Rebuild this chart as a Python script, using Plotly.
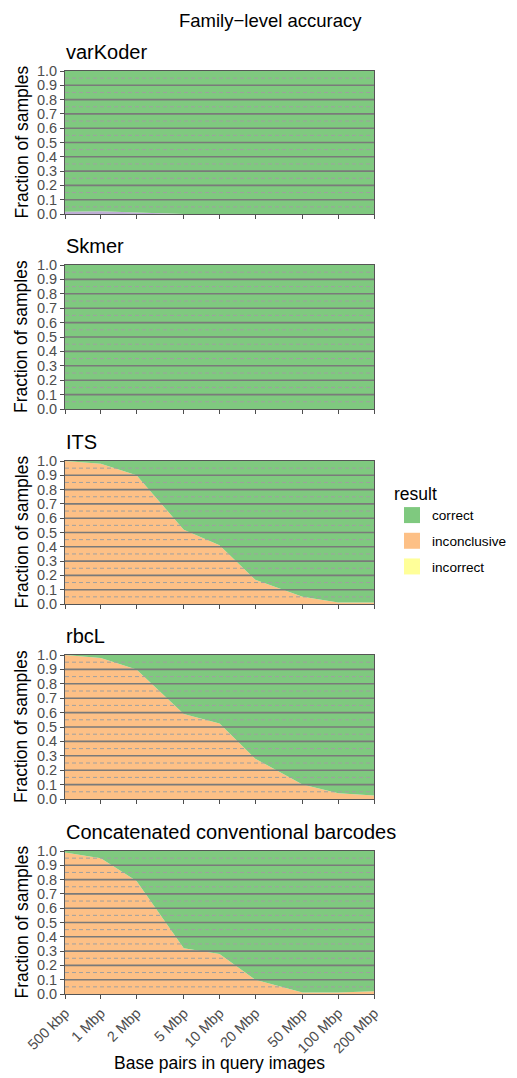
import math
import plotly.graph_objects as go

# page has an 8px body margin; figure coordinates = reference pixels - OFF
OFF = 8
W, H = 517 - OFF, 1078 - OFF

x_bp = [5e5, 1e6, 2e6, 5e6, 1e7, 2e7, 5e7, 1e8, 2e8]
x_labels = ["500 kbp", "1 Mbp", "2 Mbp", "5 Mbp", "10 Mbp", "20 Mbp", "50 Mbp", "100 Mbp", "200 Mbp"]

panels = ["varKoder", "Skmer", "ITS", "rbcL", "Concatenated conventional barcodes"]

# fractions per panel (bottom to top): incorrect, other, inconclusive, correct
incorrect = {
    "varKoder": [0, 0, 0, 0, 0, 0, 0, 0, 0],
    "Skmer": [0, 0, 0, 0, 0, 0, 0, 0, 0],
    "ITS": [0, 0, 0, 0, 0, 0, 0, 0, 0],
    "rbcL": [0, 0, 0, 0, 0, 0, 0, 0, 0],
    "Concatenated conventional barcodes": [0, 0, 0, 0, 0, 0, 0, 0, 0],
}
other = {
    "varKoder": [0.015, 0.02, 0.01, 0.0, 0, 0, 0, 0, 0],
    "Skmer": [0, 0, 0, 0, 0, 0, 0, 0, 0],
    "ITS": [0, 0, 0, 0, 0, 0, 0, 0, 0],
    "rbcL": [0, 0, 0, 0, 0, 0, 0, 0, 0],
    "Concatenated conventional barcodes": [0, 0, 0, 0, 0, 0, 0, 0, 0],
}
inconclusive = {
    "varKoder": [0, 0, 0, 0, 0, 0, 0, 0, 0],
    "Skmer": [0, 0, 0, 0, 0, 0, 0, 0, 0],
    "ITS": [1.0, 0.98, 0.90, 0.52, 0.41, 0.17, 0.05, 0.01, 0.01],
    "rbcL": [1.0, 0.98, 0.90, 0.59, 0.525, 0.28, 0.10, 0.04, 0.025],
    "Concatenated conventional barcodes": [0.99, 0.95, 0.79, 0.32, 0.28, 0.10, 0.01, 0.01, 0.02],
}
correct = {p: [round(1 - a - b - c, 4) for a, b, c in zip(incorrect[p], other[p], inconclusive[p])] for p in panels}

major_ticks = [round(0.1 * i, 1) for i in range(11)]
minor_ticks = [round(0.05 + 0.1 * i, 2) for i in range(10)]

legend_order = ["correct", "inconclusive", "incorrect"]
colors = {"correct": "#7FC97F", "inconclusive": "#FDC086", "incorrect": "#FFFF99", "other": "#BEAED4"}

# panel pixel boxes in reference coords (top, bottom)
boxes = [(71, 214), (265, 409), (461, 604), (655, 799), (851, 994)]
x0px, x1px = 65, 374


def px(x):
    return (x - OFF) / W


def py(y):
    return 1 - (y - OFF) / H


fig = go.Figure()
layout = {}
shapes = []
annotations = []
font_family = "Liberation Sans, Arial, sans-serif"

for i, p in enumerate(panels):
    n = i + 1
    xa = "x" if n == 1 else f"x{n}"
    ya = "y" if n == 1 else f"y{n}"
    series = [
        ("incorrect", incorrect[p]),
        ("other", other[p]),
        ("inconclusive", inconclusive[p]),
        ("correct", correct[p]),
    ]
    for name, vals in series:
        fig.add_trace(go.Scatter(
            x=x_bp, y=vals, xaxis=xa, yaxis=ya,
            name=name, stackgroup=f"s{n}", mode="lines",
            line=dict(width=0, color=colors[name]), fillcolor=colors[name],
            showlegend=False, hoverinfo="skip",
        ))
    top, bot = boxes[i]
    layout[f"xaxis{'' if n == 1 else n}"] = dict(
        type="log", range=[math.log10(x_bp[0]), math.log10(x_bp[-1])],
        domain=[px(x0px), px(x1px)], anchor=ya,
        tickvals=x_bp, ticktext=x_labels, showticklabels=(n == 5),
        tickangle=-45, ticks="outside", ticklen=4, tickcolor="#4D4D4D",
        tickfont=dict(size=14.5, color="#4D4D4D", family=font_family),
        showgrid=False, showline=True, mirror=True, linecolor="#555555", linewidth=1,
        zeroline=False, fixedrange=True,
    )
    layout[f"yaxis{'' if n == 1 else n}"] = dict(
        range=[0, 1], domain=[py(bot), py(top)], anchor=xa,
        tickvals=major_ticks, ticktext=[f"{v:.1f}" for v in major_ticks],
        ticks="outside", ticklen=4, tickcolor="#4D4D4D",
        tickfont=dict(size=14.5, color="#4D4D4D", family=font_family),
        showgrid=False, showline=True, mirror=True, linecolor="#555555", linewidth=1,
        zeroline=False, fixedrange=True,
    )
    for v in minor_ticks:
        shapes.append(dict(type="line", xref=f"{xa} domain", yref=ya, x0=0, x1=1, y0=v, y1=v,
                           line=dict(color="#A0A0A0", width=1, dash="4px,3px"), layer="above"))
    for v in major_ticks[1:-1]:
        shapes.append(dict(type="line", xref=f"{xa} domain", yref=ya, x0=0, x1=1, y0=v, y1=v,
                           line=dict(color="#7A7A7A", width=1.6), layer="above"))
    annotations.append(dict(text=p, xref="paper", yref="paper", x=px(x0px) - 0.002, y=py(top - 6),
                            xanchor="left", yanchor="bottom", showarrow=False,
                            font=dict(size=20, color="black", family=font_family)))
    annotations.append(dict(text="Fraction of samples", xref="paper", yref="paper",
                            x=px(21), y=py((top + bot) / 2), textangle=-90,
                            xanchor="center", yanchor="middle", showarrow=False,
                            font=dict(size=17.5, color="black", family=font_family)))

# legend entries (square keys)
for name in legend_order:
    fig.add_trace(go.Scatter(
        x=[None], y=[None], mode="markers", name=name,
        marker=dict(symbol="square", size=16, color=colors[name]),
        legendgroup=name, showlegend=True, hoverinfo="skip",
    ))

annotations.append(dict(text="Family\u2212level accuracy", xref="paper", yref="paper",
                        x=px(270), y=1, xanchor="center", yanchor="top", showarrow=False,
                        font=dict(size=18.5, color="black", family=font_family)))
annotations.append(dict(text="Base pairs in query images", xref="paper", yref="paper",
                        x=px((x0px + x1px) / 2), y=py(1063), xanchor="center", yanchor="middle",
                        showarrow=False, font=dict(size=17.5, color="black", family=font_family)))

fig.update_layout(
    width=W, height=H, margin=dict(l=0, r=0, t=0, b=0, autoexpand=False),
    paper_bgcolor="white", plot_bgcolor="white",
    shapes=shapes, annotations=annotations,
    legend=dict(title=dict(text="result", font=dict(size=17.5, color="black", family=font_family)),
                x=px(392), y=py(477), xanchor="left", yanchor="top",
                font=dict(size=13.6, color="black", family=font_family),
                tracegroupgap=5, itemwidth=30, itemsizing="trace", bgcolor="rgba(0,0,0,0)"),
    **layout,
)

fig.write_html("out.html")
